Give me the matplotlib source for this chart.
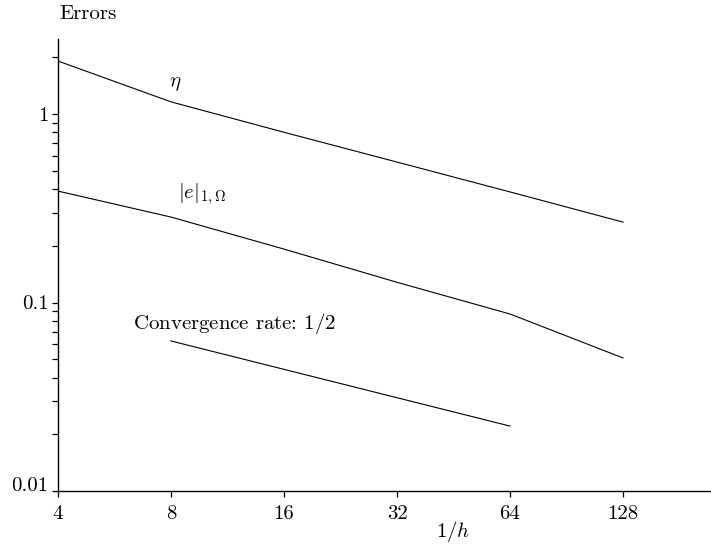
import matplotlib
matplotlib.use("Agg")
import matplotlib.pyplot as plt
from matplotlib.ticker import FixedLocator, FixedFormatter, LogLocator, NullFormatter
import matplotlib.transforms as mtransforms

plt.rcParams['font.family'] = 'serif'
plt.rcParams['font.serif'] = ['cmr10', 'DejaVu Serif']
plt.rcParams['mathtext.fontset'] = 'cm'
plt.rcParams['axes.unicode_minus'] = False

# Data
inv_h = [4, 8, 16, 32, 64, 128]
eta = [1.91, 1.16, 0.80, 0.556, 0.386, 0.267]
err_h1 = [0.39, 0.284, 0.192, 0.128, 0.0869, 0.0508]
rate_x = [8, 64]
rate_y = [0.0625, 0.0221]

x_ticks = [4, 8, 16, 32, 64, 128]
x_tick_labels = ['4', '8', '16', '32', '64', '128']
y_ticks = [0.01, 0.1, 1]
y_tick_labels = ['0.01', '0.1', '1']

W, H = 711, 547
fig = plt.figure(figsize=(W / 100, H / 100), dpi=100)
left, right, bottom, top = 58, 711, 491, 39
ax = fig.add_axes([left / W, 1 - bottom / H, (right - left) / W, (bottom - top) / H])

ax.plot(inv_h, eta, color='black', lw=0.8)
ax.plot(inv_h, err_h1, color='black', lw=0.8)
ax.plot(rate_x, rate_y, color='black', lw=0.8)

ax.set_xscale('log')
ax.set_yscale('log')
ax.set_xlim(4, 219.6)
ax.set_ylim(0.01, 2.5)

ax.xaxis.set_major_locator(FixedLocator(x_ticks))
ax.xaxis.set_major_formatter(FixedFormatter(x_tick_labels))
ax.xaxis.set_minor_locator(FixedLocator([]))
ax.yaxis.set_major_locator(FixedLocator(y_ticks))
ax.yaxis.set_major_formatter(FixedFormatter(y_tick_labels))
ax.yaxis.set_minor_locator(LogLocator(base=10, subs=[2, 3, 4, 5, 6, 7, 8, 9]))
ax.yaxis.set_minor_formatter(NullFormatter())

for s in ['top', 'right']:
    ax.spines[s].set_visible(False)
for s in ['left', 'bottom']:
    ax.spines[s].set_linewidth(1.0)

ax.tick_params(axis='both', which='both', direction='out', length=4, width=0.9, labelsize=15)
ax.tick_params(axis='x', pad=6)
ax.tick_params(axis='y', pad=3)

# shift 0.01 label upward like the reference
fig.canvas.draw()
for lbl in ax.get_yticklabels():
    if lbl.get_text() == '0.01':
        lbl.set_transform(lbl.get_transform() + mtransforms.ScaledTranslation(0, 7 / 100, fig.dpi_scale_trans))

def ftext(px, py, s, **kw):
    fig.text(px / W, 1 - py / H, s, fontsize=15, **kw)

ftext(88, 14, 'Errors', ha='center', va='center')
ftext(175, 84, r'$\eta$', ha='center', va='center')
ftext(202, 194, r'$|e|_{1,\Omega}$', ha='center', va='center')
ftext(133, 323, r'Convergence rate: $1/2$', ha='left', va='center')
ftext(453, 532, r'$1/h$', ha='center', va='center')

fig.savefig('out.png', dpi=100)
